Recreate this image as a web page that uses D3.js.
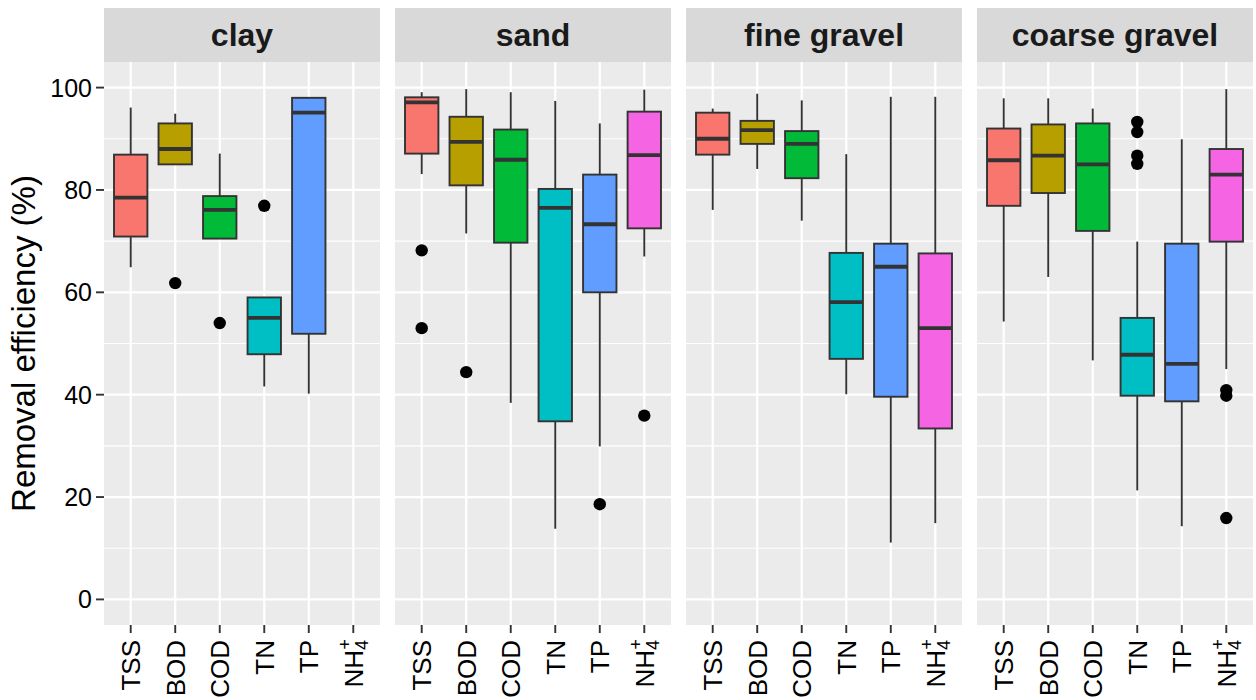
<!DOCTYPE html>
<html>
<head>
<meta charset="utf-8">
<script src="https://cdn.jsdelivr.net/npm/d3@7"></script>
<style>
    body { margin: 0; background: #fff; }
    text { font-family: "Liberation Sans", Arial, sans-serif; }
</style>
</head>
<body>
<div id="chart"></div>
<script>
// facets and parameters
const media = ['clay', 'sand', 'fine gravel', 'coarse gravel'];
const params = ['TSS', 'BOD', 'COD', 'TN', 'TP', 'NH4'];
const fills = ['#F8766D', '#B79F00', '#00BA38', '#00BFC4', '#619CFF', '#F564E3'];
const yTicks = [0, 20, 40, 60, 80, 100];
const yMinor = [10, 30, 50, 70, 90];

// [lower whisker, Q1, median, Q3, upper whisker] per parameter
const clayBoxes = [
    [64.9, 70.9, 78.5, 86.9, 96.1],
    [85.0, 85.0, 88.0, 93.0, 94.9],
    [70.5, 70.5, 76.1, 78.8, 87.1],
    [41.6, 47.9, 55.0, 59.0, 59.0],
    [40.2, 51.9, 95.1, 98.0, 98.0],
    null
];
const clayOutliers = [[], [61.8], [54.0], [76.9], [], []];

const sandBoxes = [
    [83.1, 87.1, 97.1, 98.1, 99.1],
    [71.5, 80.9, 89.4, 94.3, 99.7],
    [38.4, 69.7, 85.9, 91.8, 99.1],
    [13.8, 34.8, 76.5, 80.2, 97.4],
    [29.9, 60.0, 73.3, 83.0, 93.0],
    [67.0, 72.5, 86.8, 95.3, 99.6]
];
const sandOutliers = [[68.2, 53.0], [44.4], [], [], [18.6], [35.9]];

const fineGravelBoxes = [
    [76.1, 86.9, 90.0, 95.1, 95.9],
    [84.1, 89.0, 91.7, 93.5, 98.8],
    [74.0, 82.3, 89.0, 91.5, 97.5],
    [40.1, 47.0, 58.1, 67.7, 87.0],
    [11.1, 39.6, 65.0, 69.5, 98.2],
    [14.9, 33.4, 53.0, 67.6, 98.2]
];
const fineGravelOutliers = [[], [], [], [], [], []];

const coarseGravelBoxes = [
    [54.3, 76.9, 85.8, 92.0, 97.9],
    [63.0, 79.4, 86.7, 92.8, 97.9],
    [46.7, 72.0, 85.0, 93.0, 95.9],
    [21.3, 39.8, 47.8, 55.0, 69.9],
    [14.3, 38.7, 46.0, 69.5, 89.9],
    [45.0, 69.9, 83.0, 88.0, 99.7]
];
const coarseGravelOutliers = [[], [], [], [93.3, 91.3, 86.7, 85.1], [], [40.9, 39.8, 15.9]];

const boxes = [clayBoxes, sandBoxes, fineGravelBoxes, coarseGravelBoxes];
const outliers = [clayOutliers, sandOutliers, fineGravelOutliers, coarseGravelOutliers];

const svgWidth = 1256;
const svgHeight = 700;
const margins = {t: 62, l: 104, b: 75};
const panelWidth = 276;
const panelGap = 15;
const stripHeight = 54;
const panelHeight = svgHeight - margins.t - margins.b;

const svg = d3.select('#chart')
    .append('svg')
    .attr('width', svgWidth)
    .attr('height', svgHeight);

const y = d3.scaleLinear().domain([-5, 105]).range([margins.t + panelHeight, margins.t]);
const x = d3.scalePoint().domain(params).range([0, panelWidth]).padding(0.6);
const boxWidth = x.step() * 0.75;

media.forEach((m, i) => {
    const g = svg.append('g')
        .attr('transform', `translate(${margins.l + i * (panelWidth + panelGap)},0)`);

    // strip
    g.append('rect')
        .attr('x', 0).attr('y', margins.t - stripHeight)
        .attr('width', panelWidth).attr('height', stripHeight)
        .attr('fill', '#D9D9D9');
    g.append('text')
        .attr('x', panelWidth / 2)
        .attr('y', margins.t - stripHeight / 2)
        .attr('dy', '0.35em')
        .attr('text-anchor', 'middle')
        .style('font-size', '32px')
        .style('font-weight', 'bold')
        .style('fill', '#1A1A1A')
        .text(m);

    // panel background + grid
    g.append('rect')
        .attr('x', 0).attr('y', margins.t)
        .attr('width', panelWidth).attr('height', panelHeight)
        .attr('fill', '#EBEBEB');
    g.selectAll('line.minor')
        .data(yMinor)
        .join('line')
        .attr('class', 'minor')
        .attr('x1', 0).attr('x2', panelWidth)
        .attr('y1', d => y(d)).attr('y2', d => y(d))
        .attr('stroke', '#fff').attr('stroke-width', 1.1);
    g.selectAll('line.major')
        .data(yTicks)
        .join('line')
        .attr('class', 'major')
        .attr('x1', 0).attr('x2', panelWidth)
        .attr('y1', d => y(d)).attr('y2', d => y(d))
        .attr('stroke', '#fff').attr('stroke-width', 2.2);
    g.selectAll('line.vmajor')
        .data(params)
        .join('line')
        .attr('class', 'vmajor')
        .attr('x1', d => x(d)).attr('x2', d => x(d))
        .attr('y1', margins.t).attr('y2', margins.t + panelHeight)
        .attr('stroke', '#fff').attr('stroke-width', 2.2);

    // boxplots
    const rows = params.map((p, j) => ({p, j, s: boxes[i][j]})).filter(d => d.s);
    const bg = g.selectAll('g.box')
        .data(rows)
        .join('g')
        .attr('class', 'box');
    bg.append('line')
        .attr('x1', d => x(d.p)).attr('x2', d => x(d.p))
        .attr('y1', d => y(d.s[4])).attr('y2', d => y(d.s[3]))
        .attr('stroke', '#333').attr('stroke-width', 1.9);
    bg.append('line')
        .attr('x1', d => x(d.p)).attr('x2', d => x(d.p))
        .attr('y1', d => y(d.s[1])).attr('y2', d => y(d.s[0]))
        .attr('stroke', '#333').attr('stroke-width', 1.9);
    bg.append('rect')
        .attr('x', d => x(d.p) - boxWidth / 2)
        .attr('y', d => y(d.s[3]))
        .attr('width', boxWidth)
        .attr('height', d => y(d.s[1]) - y(d.s[3]))
        .attr('fill', d => fills[d.j])
        .attr('stroke', '#333').attr('stroke-width', 1.9);
    bg.append('line')
        .attr('x1', d => x(d.p) - boxWidth / 2).attr('x2', d => x(d.p) + boxWidth / 2)
        .attr('y1', d => y(d.s[2])).attr('y2', d => y(d.s[2]))
        .attr('stroke', '#333').attr('stroke-width', 3.8);

    const pts = [];
    outliers[i].forEach((vals, j) => vals.forEach(v => pts.push({p: params[j], v})));
    g.selectAll('circle.out')
        .data(pts)
        .join('circle')
        .attr('class', 'out')
        .attr('cx', d => x(d.p)).attr('cy', d => y(d.v))
        .attr('r', 6.2)
        .attr('fill', '#000');

    // x axis
    const xa = g.append('g')
        .attr('transform', `translate(0,${margins.t + panelHeight})`);
    xa.selectAll('line')
        .data(params)
        .join('line')
        .attr('x1', d => x(d)).attr('x2', d => x(d))
        .attr('y1', 0).attr('y2', 8)
        .attr('stroke', '#333').attr('stroke-width', 1.9);
    const lab = xa.selectAll('g.lab')
        .data(params)
        .join('g')
        .attr('class', 'lab')
        .attr('transform', d => `translate(${x(d)},15) rotate(-90)`);
    lab.append('text')
        .attr('text-anchor', 'end')
        .attr('dy', '0.36em')
        .style('font-size', '26px')
        .style('fill', '#000')
        .each(function(d) {
            const t = d3.select(this);
            if (d === 'NH4') {
                t.append('tspan').text('NH');
                t.append('tspan').attr('dy', '0.3em').style('font-size', '18px').text('4');
            } else {
                t.text(d);
            }
        });
    lab.filter(d => d === 'NH4').append('text')
        .attr('text-anchor', 'end')
        .attr('dx', '0.05em')
        .attr('dy', '-0.15em')
        .style('font-size', '18px')
        .style('fill', '#000')
        .text('+');
});

// y axis
const ya = svg.append('g');
ya.selectAll('line')
    .data(yTicks)
    .join('line')
    .attr('x1', margins.l - 8).attr('x2', margins.l)
    .attr('y1', d => y(d)).attr('y2', d => y(d))
    .attr('stroke', '#333').attr('stroke-width', 1.9);
ya.selectAll('text')
    .data(yTicks)
    .join('text')
    .attr('x', margins.l - 12)
    .attr('y', d => y(d))
    .attr('dy', '0.36em')
    .attr('text-anchor', 'end')
    .style('font-size', '25px')
    .style('fill', '#000')
    .text(d => d);

svg.append('text')
    .attr('transform', `translate(35,${margins.t + panelHeight / 2}) rotate(-90)`)
    .attr('text-anchor', 'middle')
    .style('font-size', '33px')
    .style('fill', '#000')
    .text('Removal efficiency (%)');
</script>
</body>
</html>
